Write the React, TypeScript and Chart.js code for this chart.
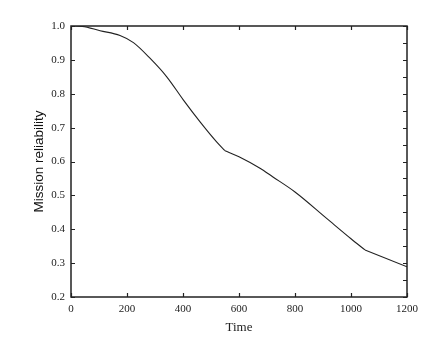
import React, { useEffect, useRef } from "react";
import { Chart, registerables } from "chart.js";

Chart.register(...registerables);

const timeValues = [0, 40, 104, 175, 223, 282, 342, 401, 461, 520, 550, 600, 675, 720, 800, 913, 1000, 1050, 1200];
const reliabilityValues = [1.0, 0.999, 0.986, 0.972, 0.951, 0.905, 0.85, 0.782, 0.717, 0.658, 0.632, 0.614, 0.58, 0.555, 0.51, 0.432, 0.372, 0.339, 0.289];
const kinkTimes = [550, 1050];
const xTicks = [0, 200, 400, 600, 800, 1000, 1200];
const yTicks = [0.2, 0.3, 0.4, 0.5, 0.6, 0.7, 0.8, 0.9, 1.0];
const yMinorTicks = [0.2, 0.25, 0.3, 0.35, 0.4, 0.45, 0.5, 0.55, 0.6, 0.65, 0.7, 0.75, 0.8, 0.85, 0.9, 0.95, 1.0];

const framePlugin = {
  id: "frame",
  afterDraw(chart: any) {
    const { ctx, chartArea } = chart;
    const xs = chart.scales.x;
    const ys = chart.scales.y;
    const { left, right, top, bottom } = chartArea;
    ctx.save();
    ctx.strokeStyle = "#222";
    ctx.lineWidth = 1.5;
    ctx.strokeRect(left, top, right - left, bottom - top);
    ctx.lineWidth = 1.2;
    ctx.beginPath();
    for (const v of xTicks) {
      const px = Math.round(xs.getPixelForValue(v)) + 0.5;
      ctx.moveTo(px, bottom);
      ctx.lineTo(px, bottom - 4);
      ctx.moveTo(px, top);
      ctx.lineTo(px, top + 4);
    }
    for (const v of yTicks) {
      const py = Math.round(ys.getPixelForValue(v)) + 0.5;
      ctx.moveTo(left, py);
      ctx.lineTo(left + 4, py);
    }
    for (const v of yMinorTicks) {
      const py = Math.round(ys.getPixelForValue(v)) + 0.5;
      ctx.moveTo(right, py);
      ctx.lineTo(right - 4, py);
    }
    ctx.stroke();
    ctx.restore();
  },
};

function segmentPoints(from: number, to: number) {
  const pts: { x: number; y: number }[] = [];
  timeValues.forEach((t, i) => {
    if (t >= from && t <= to) pts.push({ x: t, y: reliabilityValues[i] });
  });
  return pts;
}

export default function App() {
  const ref = useRef<HTMLCanvasElement>(null);
  useEffect(() => {
    if (!ref.current) return;
    const bounds = [0, ...kinkTimes, 1200];
    const datasets = bounds.slice(0, -1).map((b, i) => ({
      data: segmentPoints(b, bounds[i + 1]),
      borderColor: "#222",
      borderWidth: 1.1,
      pointRadius: 0,
      cubicInterpolationMode: "monotone" as const,
      fill: false,
    }));
    const chart = new Chart(ref.current, {
      type: "line",
      data: { datasets },
      options: {
        animation: false,
        responsive: false,
        maintainAspectRatio: false,
        layout: { padding: { left: 31, top: 26, right: 35, bottom: 17 } },
        plugins: { legend: { display: false }, tooltip: { enabled: false } },
        scales: {
          x: {
            type: "linear",
            min: 0,
            max: 1200,
            afterBuildTicks: (s: any) => {
              s.ticks = xTicks.map((v) => ({ value: v }));
            },
            afterFit: (s: any) => {
              s.height = 38;
            },
            grid: { display: false, drawTicks: false },
            border: { display: false },
            ticks: {
              padding: 6,
              color: "#222",
              font: { family: "'Liberation Serif', serif", size: 11 },
              maxRotation: 0,
              autoSkip: false,
              callback: (v: any) => String(v),
            },
            title: {
              display: true,
              text: "Time",
              color: "#222",
              padding: 0,
              font: { family: "'Liberation Serif', serif", size: 13 },
            },
          },
          y: {
            type: "linear",
            min: 0.2,
            max: 1.0,
            afterBuildTicks: (s: any) => {
              s.ticks = yTicks.map((v) => ({ value: v }));
            },
            afterFit: (s: any) => {
              s.width = 40;
            },
            grid: { display: false, drawTicks: false },
            border: { display: false },
            ticks: {
              padding: 6,
              color: "#222",
              font: { family: "'Liberation Serif', serif", size: 11 },
              autoSkip: false,
              callback: (v: any) => Number(v).toFixed(1),
            },
            title: {
              display: true,
              text: "Mission reliability",
              color: "#111",
              padding: 0,
              font: { family: "'Liberation Sans', sans-serif", size: 13.5 },
            },
          },
        },
      },
      plugins: [framePlugin],
    });
    return () => chart.destroy();
  }, []);
  return (
    <div style={{ position: "absolute", left: 0, top: 0, width: 442, height: 352, background: "#fff" }}>
      <canvas ref={ref} width={442} height={352} style={{ width: 442, height: 352 }} />
    </div>
  );
}
